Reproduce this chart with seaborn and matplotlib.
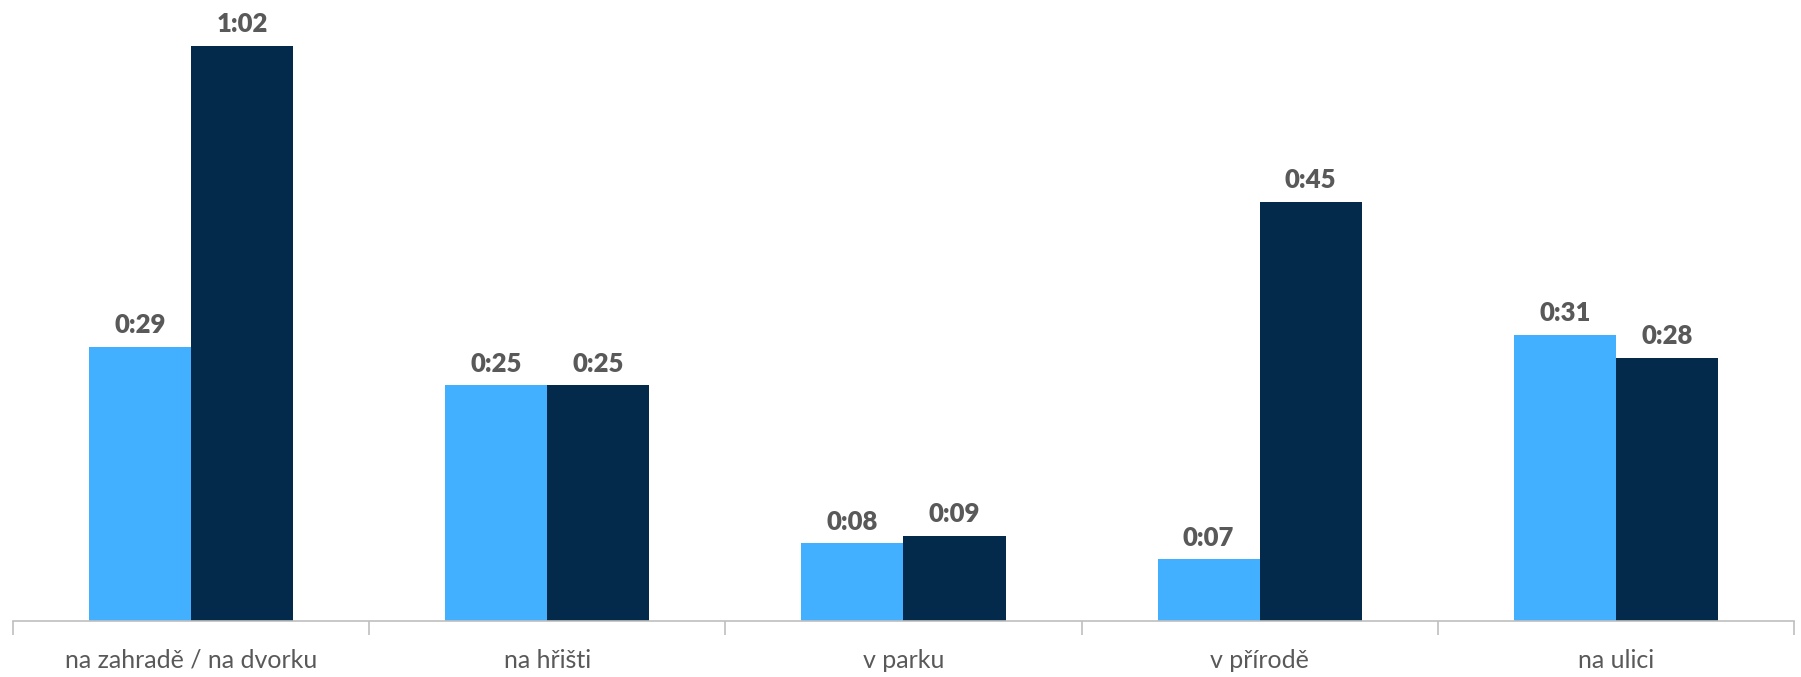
import pandas as pd
import matplotlib.pyplot as plt
import seaborn as sns

# data (minutes)
mista = ["na zahradě / na dvorku", "na hřišti", "v parku", "v přírodě", "na ulici"]
serie = ["A", "B"]
minuty_a = [29.3, 25.2, 8.3, 6.6, 30.6]
minuty_b = [61.5, 25.2, 9.1, 44.8, 28.1]

df = pd.DataFrame({
    "misto": mista * 2,
    "serie": [serie[0]] * len(mista) + [serie[1]] * len(mista),
    "minuty": minuty_a + minuty_b,
})

sns.set_style("white")
plt.rcParams["font.family"] = ["Lato", "DejaVu Sans"]

fig = plt.figure(figsize=(18.01, 6.77), dpi=100)
ax = fig.add_axes([0.0072, 0.0827, 0.9889, 0.9173])

sns.barplot(data=df, x="misto", y="minuty", hue="serie", order=mista,
            hue_order=serie, palette=["#42AFFF", "#032A4A"], width=0.573,
            gap=0, legend=False, saturation=1, linewidth=0, ax=ax)

def fmt(v):
    m = int(v + 0.5)
    return f"{m // 60}:{m % 60:02d}"

for cont in ax.containers:
    ax.bar_label(cont, labels=[fmt(b.get_height()) for b in cont], padding=7,
                 fontsize=18.5, fontweight="heavy", color="#595959")

ax.set_ylim(0, 66.4)
ax.set_xlim(-0.5, len(mista) - 0.5)
ax.set_xlabel("")
ax.set_ylabel("")
ax.set_yticks([])
for s in ["top", "left", "right"]:
    ax.spines[s].set_visible(False)
ax.spines["bottom"].set_color("#BFBFBF")
ax.spines["bottom"].set_linewidth(1.2)
ax.set_xticks([i - 0.5 for i in range(len(mista) + 1)], minor=True)
ax.tick_params(axis="x", which="minor", bottom=True, length=10, color="#BFBFBF", width=1.2, direction="out")
ax.tick_params(axis="x", which="major", length=0, pad=20, labelsize=18, labelcolor="#595959")

fig.savefig("out.png", dpi=100)
